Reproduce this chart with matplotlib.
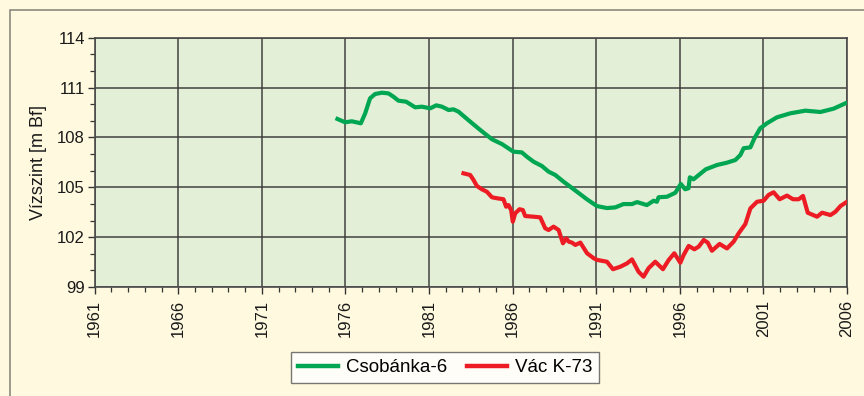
import matplotlib
matplotlib.use("Agg")
import matplotlib.pyplot as plt
from matplotlib.patches import Rectangle
from matplotlib.ticker import MultipleLocator

plt.rcParams['font.family'] = ['Liberation Sans', 'DejaVu Sans']

# Csobánka-6 monitoring well water level (year, m Bf)
csobanka_year = [1975.52, 1975.98, 1976.38, 1976.92, 1977.18, 1977.47, 1977.77, 1978.17,
                 1978.57, 1978.87, 1979.17, 1979.63, 1980.17, 1980.57, 1981.07, 1981.43,
                 1981.77, 1982.17, 1982.46, 1982.76, 1983.46, 1984.06, 1984.76, 1985.36,
                 1986.05, 1986.55, 1986.85, 1987.25, 1987.75, 1988.15, 1988.55, 1989.04,
                 1989.85, 1990.44, 1991.04, 1991.64, 1992.14, 1992.63, 1993.14, 1993.44,
                 1994.03, 1994.43, 1994.63, 1994.73, 1995.23, 1995.73, 1996.06, 1996.32,
                 1996.52, 1996.60, 1996.82, 1997.55, 1998.22, 1998.82, 1999.32, 1999.62,
                 1999.82, 2000.22, 2000.46, 2000.81, 2001.21, 2001.81, 2002.61, 2003.51,
                 2004.41, 2005.20, 2005.90]
csobanka_level = [109.11, 108.91, 108.97, 108.85, 109.45, 110.35, 110.61, 110.69,
                  110.65, 110.45, 110.21, 110.15, 109.81, 109.85, 109.75, 109.93,
                  109.85, 109.65, 109.69, 109.55, 108.95, 108.45, 107.89, 107.60,
                  107.14, 107.10, 106.84, 106.54, 106.28, 105.94, 105.74, 105.34,
                  104.73, 104.28, 103.87, 103.75, 103.79, 103.99, 103.99, 104.11,
                  103.93, 104.19, 104.13, 104.40, 104.43, 104.67, 105.20, 104.88,
                  104.94, 105.60, 105.48, 106.08, 106.34, 106.48, 106.64, 106.94,
                  107.35, 107.40, 107.94, 108.55, 108.85, 109.21, 109.45, 109.61,
                  109.53, 109.73, 110.05]

# Vác K-73 monitoring well water level (year, m Bf)
vac_year = [1983.06, 1983.46, 1983.66, 1983.86, 1984.16, 1984.46, 1984.76, 1985.06,
            1985.45, 1985.61, 1985.75, 1985.91, 1986.01, 1986.15, 1986.41, 1986.61,
            1986.75, 1987.25, 1987.65, 1987.95, 1988.15, 1988.45, 1988.75, 1989.01,
            1989.21, 1989.35, 1989.55, 1989.75, 1990.05, 1990.45, 1990.85, 1991.05,
            1991.64, 1992.00, 1992.44, 1992.84, 1993.14, 1993.53, 1993.83, 1994.13,
            1994.53, 1994.99, 1995.33, 1995.67, 1996.03, 1996.23, 1996.53, 1996.87,
            1997.13, 1997.43, 1997.67, 1997.92, 1998.38, 1998.82, 1999.22, 1999.52,
            1999.92, 2000.22, 2000.62, 2001.01, 2001.31, 2001.61, 2001.97, 2002.41,
            2002.77, 2003.11, 2003.37, 2003.65, 2004.21, 2004.51, 2005.01, 2005.31,
            2005.61, 2006.00]
vac_level = [105.84, 105.74, 105.44, 105.08, 104.88, 104.73, 104.40, 104.34,
             104.28, 103.83, 103.93, 103.63, 102.93, 103.43, 103.68, 103.63,
             103.27, 103.23, 103.19, 102.53, 102.43, 102.63, 102.43, 101.63,
             101.93, 101.73, 101.67, 101.53, 101.67, 101.03, 100.73, 100.63,
             100.52, 100.07, 100.22, 100.42, 100.66, 99.92, 99.62, 100.13,
             100.52, 100.07, 100.62, 101.03, 100.46, 100.93, 101.47, 101.27,
             101.43, 101.83, 101.67, 101.18, 101.59, 101.32, 101.73, 102.23,
             102.79, 103.73, 104.13, 104.19, 104.54, 104.70, 104.28, 104.50,
             104.28, 104.28, 104.48, 103.47, 103.23, 103.47, 103.33, 103.53,
             103.87, 104.13]

year_ticks = list(range(1961, 2007, 5))
level_ticks = [99, 102, 105, 108, 111, 114]

W, H = 864, 396
fig = plt.figure(figsize=(W / 100, H / 100), dpi=100)
fig.patch.set_facecolor('#FFFADF')

# outer frame
fig.patches.append(Rectangle((10 / W, -0.1), 1.2, (H - 10) / H + 0.1,
                             transform=fig.transFigure, fill=False,
                             edgecolor='#8A8A80', linewidth=1.2))

ax = fig.add_axes([94.7 / W, 1 - 287 / H, (847 - 94.7) / W, (287 - 37.7) / H])
ax.set_facecolor('#E3EFD6')

ax.plot(csobanka_year, csobanka_level, color='#00A651', lw=3.0,
        solid_joinstyle='round', label='Csobánka-6', zorder=3)
ax.plot(vac_year, vac_level, color='#ED1C24', lw=3.0,
        solid_joinstyle='round', label='Vác K-73', zorder=3)

ax.set_xlim(1961, 2006)
ax.set_ylim(99, 114)
ax.set_xticks(year_ticks)
ax.set_yticks(level_ticks)
ax.xaxis.set_minor_locator(MultipleLocator(1))
ax.yaxis.set_minor_locator(MultipleLocator(1))
ax.grid(True, which='major', color='#3A3A3A', lw=1.4, alpha=0.75, zorder=1)
ax.set_axisbelow(True)

for s in ax.spines.values():
    s.set_color('#4A4A4A')
    s.set_linewidth(1.2)

ax.tick_params(which='major', direction='out', length=5, width=1, color='#333333',
               labelsize=12, labelcolor='#1A1A1A')
ax.tick_params(which='minor', direction='out', length=3.5, width=0.9, color='#333333')
ax.tick_params(axis='x', labelrotation=90, pad=4)
ax.tick_params(axis='y', pad=2)

ax.set_ylabel('Vízszint [m Bf]', fontsize=13, color='#1A1A1A', labelpad=7)

leg = fig.legend(loc='center', bbox_to_anchor=(445 / W, 1 - 367.5 / H), ncol=2,
                 fontsize=13.5, frameon=True, fancybox=False, handlelength=2.15,
                 columnspacing=1.05, handletextpad=0.4, borderpad=0.35,
                 borderaxespad=0)
for line in leg.get_lines():
    line.set_linewidth(3.2)
leg.get_frame().set_edgecolor('#555555')
leg.get_frame().set_linewidth(1.0)
leg.get_frame().set_facecolor('white')

fig.savefig('out.png', dpi=100, facecolor=fig.get_facecolor())
